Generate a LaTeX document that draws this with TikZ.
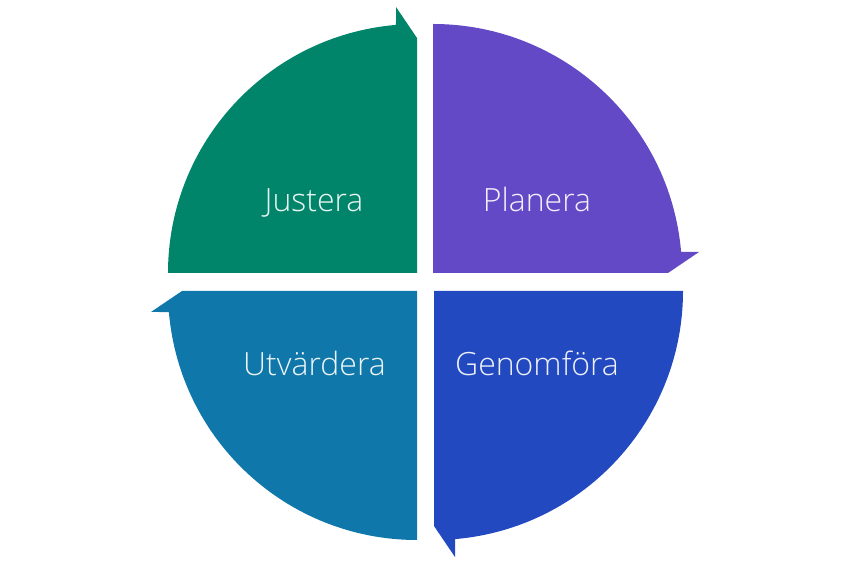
\documentclass[tikz,border=0pt]{standalone}
\usepackage{fontspec}
\IfFontExistsTF{Open Sans Light}{\setmainfont{Open Sans Light}}{\setmainfont{Open Sans}}
\definecolor{cjust}{HTML}{00856B}
\definecolor{cplan}{HTML}{6449C6}
\definecolor{cgen}{HTML}{2249BF}
\definecolor{cutv}{HTML}{0F77A9}
\tikzset{
  quarter/.pic={\fill (0,0) -- (-249,0) arc[start angle=180,end angle=94.84,radius=249]
                 -- (-21,266) -- (0,235) -- cycle;},
  lbl/.style={text=white, text opacity=0.92, font=\fontsize{32}{37}\selectfont, anchor=base, inner sep=0pt}
}
\begin{document}
\begin{tikzpicture}[x=1pt,y=1pt]
\useasboundingbox (0,0) rectangle (856,570);
\pic[fill=cjust] at (417,297) {quarter};
\pic[fill=cplan, rotate=-90] at (433,297) {quarter};
\pic[fill=cgen, rotate=-180] at (434,279) {quarter};
\pic[fill=cutv, rotate=90] at (417,279) {quarter};
\node[lbl] (justera) at (314,358) {Justera};
\node[lbl] (planera) at (537,358) {Planera};
\node[lbl] (utvardera) at (314.5,194) {Utvärdera};
\node[lbl] (genomfora) at (537,194) {Genomföra};
\end{tikzpicture}
\end{document}
